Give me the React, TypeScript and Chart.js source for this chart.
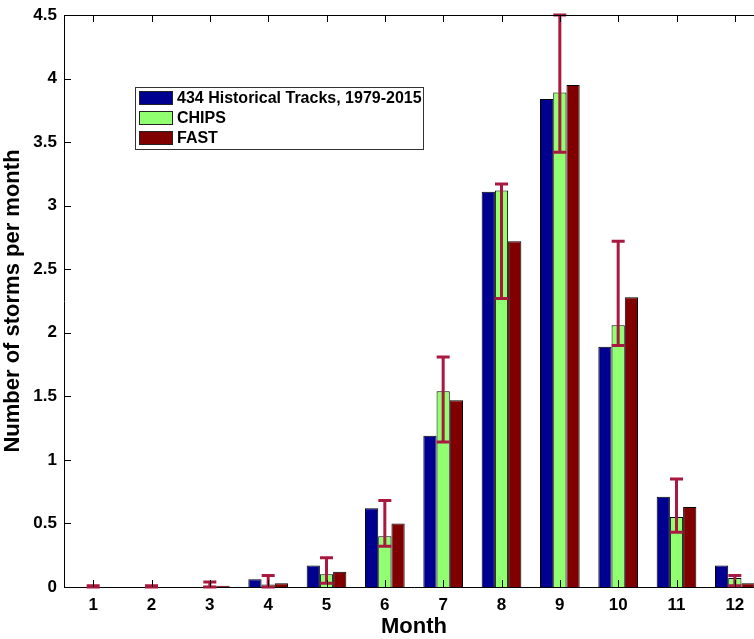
import React, { useEffect, useRef } from "react";
import { Chart, registerables } from "chart.js";

Chart.register(...registerables);

const months = ["1", "2", "3", "4", "5", "6", "7", "8", "9", "10", "11", "12"];
const historical = [0, 0, 0, 0.06, 0.17, 0.62, 1.19, 3.11, 3.84, 1.89, 0.71, 0.17];
const chips = [0, 0, 0.01, 0.02, 0.1, 0.4, 1.54, 3.12, 3.89, 2.06, 0.55, 0.07];
const fast = [0, 0, 0.01, 0.03, 0.12, 0.5, 1.47, 2.72, 3.95, 2.28, 0.63, 0.03];
const chipsLow = [0, 0, 0, 0, 0.03, 0.32, 1.14, 2.27, 3.42, 1.9, 0.43, 0.01];
const chipsHigh = [0.01, 0.01, 0.04, 0.09, 0.23, 0.68, 1.81, 3.17, 4.5, 2.72, 0.85, 0.09];
const seriesNames = ["434 Historical Tracks, 1979-2015", "CHIPS", "FAST"];
const seriesColors = ["#000090", "#90FF70", "#800000"];
const errorColor = "#A8183F";
const FONT = "'Liberation Sans', Arial, Helvetica, sans-serif";

const errorBarPlugin = {
  id: "errorBars",
  afterDatasetsDraw(chart: any) {
    const meta = chart.getDatasetMeta(1);
    const y = chart.scales.y;
    const ctx = chart.ctx;
    ctx.save();
    ctx.strokeStyle = errorColor;
    ctx.lineWidth = 3;
    meta.data.forEach((el: any, i: number) => {
      const x = el.x;
      const yl = y.getPixelForValue(chipsLow[i]);
      const yh = y.getPixelForValue(chipsHigh[i]);
      const hw = 6.5;
      ctx.beginPath();
      ctx.moveTo(x, yl);
      ctx.lineTo(x, yh);
      ctx.moveTo(x - hw, yl);
      ctx.lineTo(x + hw, yl);
      ctx.moveTo(x - hw, yh);
      ctx.lineTo(x + hw, yh);
      ctx.stroke();
    });
    ctx.restore();
  },
};

const frameAndLegendPlugin = {
  id: "frameLegend",
  afterDraw(chart: any) {
    const ctx = chart.ctx;
    const { left, right, top, bottom } = chart.chartArea;
    const xs = chart.scales.x;
    const ys = chart.scales.y;
    ctx.save();
    ctx.strokeStyle = "#000";
    ctx.lineWidth = 1;
    ctx.beginPath();
    ctx.moveTo(left, Math.round(top) + 0.5);
    ctx.lineTo(right, Math.round(top) + 0.5);
    ctx.moveTo(Math.round(right) - 0.5, top);
    ctx.lineTo(Math.round(right) - 0.5, bottom);
    const tl = 7;
    months.forEach((_, i) => {
      const px = Math.round(xs.getPixelForTick(i)) + 0.5;
      ctx.moveTo(px, bottom);
      ctx.lineTo(px, bottom - tl);
      ctx.moveTo(px, top);
      ctx.lineTo(px, top + tl);
    });
    ys.ticks.forEach((t: any) => {
      const py = Math.round(ys.getPixelForValue(t.value)) + 0.5;
      ctx.moveTo(left, py);
      ctx.lineTo(left + tl, py);
      ctx.moveTo(right, py);
      ctx.lineTo(right - tl, py);
    });
    ctx.stroke();

    // legend
    const lx = 135.5, ly = 87.5, lw = 288, lh = 62;
    ctx.fillStyle = "#fff";
    ctx.fillRect(lx, ly, lw, lh);
    ctx.strokeStyle = "#333";
    ctx.strokeRect(lx, ly, lw, lh);
    ctx.font = `bold 16px ${FONT}`;
    ctx.textBaseline = "middle";
    ctx.textAlign = "left";
    seriesNames.forEach((name, i) => {
      const sy = 91 + i * 20;
      ctx.fillStyle = seriesColors[i];
      ctx.fillRect(139, sy, 34, 14);
      ctx.strokeStyle = "#222";
      ctx.strokeRect(139.5, sy + 0.5, 33, 13);
      ctx.fillStyle = "#000";
      ctx.fillText(name, 177, sy + 7.5);
    });
    ctx.restore();
  },
};

export default function App() {
  const ref = useRef<HTMLCanvasElement>(null);
  useEffect(() => {
    if (!ref.current) return;
    const chart = new Chart(ref.current, {
      type: "bar",
      data: {
        labels: months,
        datasets: [historical, chips, fast].map((d, i) => ({
          label: seriesNames[i],
          data: d,
          backgroundColor: seriesColors[i],
          borderColor: "#000",
          borderWidth: 1,
          categoryPercentage: 0.68,
          barPercentage: 1,
        })),
      },
      options: {
        animation: false,
        responsive: false,
        devicePixelRatio: 1,
        layout: { padding: { left: 0, top: 15, right: 6, bottom: 0 } },
        plugins: { legend: { display: false }, tooltip: { enabled: false } },
        scales: {
          x: {
            grid: { display: false, drawTicks: false },
            border: { display: true, color: "#000", width: 1 },
            ticks: { color: "#000", font: { family: FONT, size: 17, weight: "bold" }, padding: 8 },
            title: {
              display: true,
              text: "Month",
              color: "#000",
              font: { family: FONT, size: 22, weight: "bold" },
              padding: { top: 0, bottom: -1 },
            },
            afterFit: (s: any) => { s.height = 52; s.paddingLeft = 0; s.paddingRight = 0; },
          },
          y: {
            min: 0,
            max: 4.5,
            grid: { display: false, drawTicks: false },
            border: { display: true, color: "#000", width: 1 },
            ticks: {
              stepSize: 0.5,
              color: "#000",
              font: { family: FONT, size: 17, weight: "bold" },
              padding: 7,
              callback: (v: any) => String(Number(v)),
            },
            title: {
              display: true,
              text: "Number of storms per month",
              color: "#000",
              font: { family: FONT, size: 22, weight: "bold" },
              padding: { top: 0, bottom: 0 },
            },
            afterFit: (s: any) => { s.width = 64; s.paddingTop = 0; s.paddingBottom = 0; },
          },
        },
      },
      plugins: [errorBarPlugin, frameAndLegendPlugin],
    });
    return () => chart.destroy();
  }, []);
  return (
    <div style={{ position: "absolute", left: 0, top: 0, width: 754, height: 639, overflow: "hidden", background: "#fff" }}>
      <canvas ref={ref} width={770} height={639} style={{ width: 770, height: 639, display: "block" }} />
    </div>
  );
}
